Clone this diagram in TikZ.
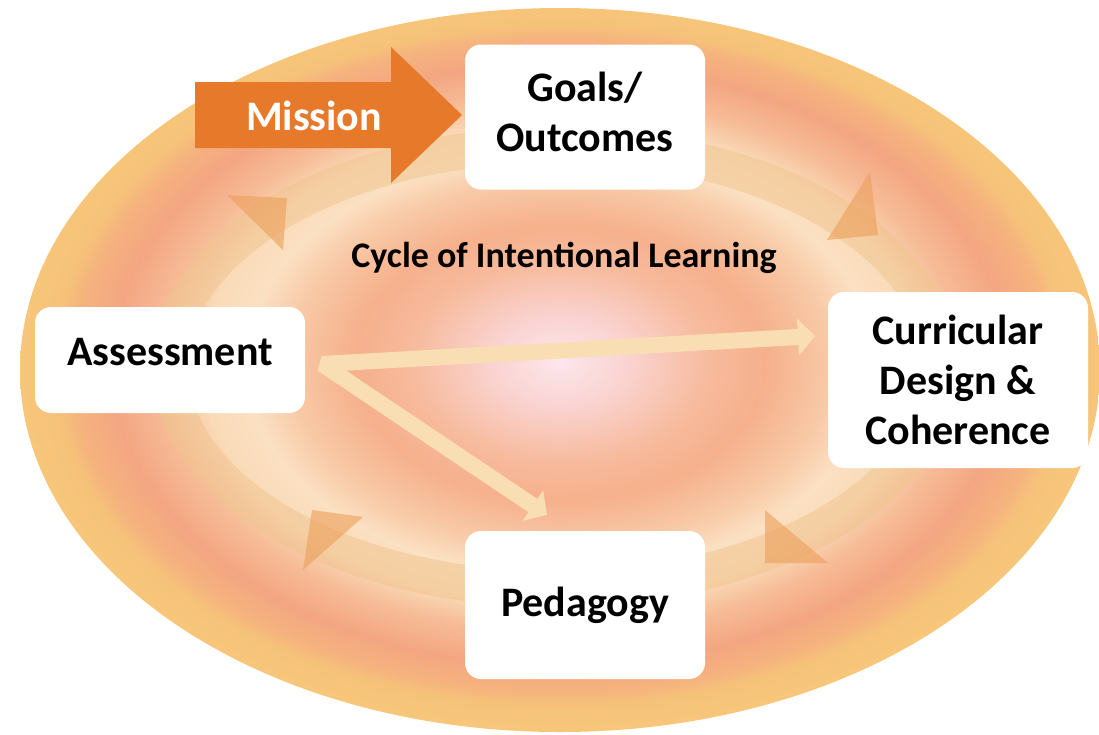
\documentclass[tikz,border=0pt]{standalone}
\usepackage{fontspec}
\setmainfont{Carlito}
\usetikzlibrary{arrows.meta}
\definecolor{g0}{HTML}{FCE6EC}
\definecolor{g1}{HTML}{FAD4D2}
\definecolor{g2}{HTML}{F7BA9C}
\definecolor{g3}{HTML}{F6B08C}
\definecolor{g4}{HTML}{F8C9A6}
\definecolor{g5}{HTML}{FBE0C2}
\definecolor{g6}{HTML}{FADBB8}
\definecolor{g7}{HTML}{F6BC97}
\definecolor{g8}{HTML}{F4A682}
\definecolor{g9}{HTML}{F5B27E}
\definecolor{g10}{HTML}{F6C27A}
\definecolor{g11}{HTML}{F7C67A}
\definecolor{ringcol}{HTML}{F0C48E}
\definecolor{headcol}{HTML}{EC9F5A}
\definecolor{missioncol}{HTML}{E7792A}
\definecolor{lightarrowcol}{HTML}{F9DDB3}
\pgfdeclareradialshading{bgshade}{\pgfpoint{0bp}{0.6bp}}{%
color(0bp)=(g0); color(3bp)=(g1); color(7bp)=(g2); color(9.5bp)=(g3);
color(12.5bp)=(g4); color(14.5bp)=(g5); color(16.5bp)=(g6); color(18.5bp)=(g7);
color(20.75bp)=(g8); color(22.5bp)=(g9); color(23.5bp)=(g10); color(25bp)=(g11);
color(50bp)=(g11)}
\begin{document}
\begin{tikzpicture}[x=1pt,y=-1pt,
  box/.style={fill=white, rounded corners=16pt, align=center, inner sep=0pt,
    font=\bfseries\fontsize{42}{50}\selectfont, text=black},
  ringhead/.style={fill=headcol, fill opacity=0.6},
  lightarrow/.style={draw=lightarrowcol, line width=16pt, line join=bevel,
    {Triangle[length=17pt,width=36pt]}-{Triangle[length=17pt,width=36pt]}}
]
\useasboundingbox (0,0) rectangle (1099,734);
% background ellipse
\shade[shading=bgshade] (560,370) ellipse [x radius=540pt, y radius=362pt];
% cycle ring
\draw[draw=ringcol, line width=36pt, draw opacity=0.5] (555,367) ellipse [x radius=385pt, y radius=222pt];
% ring arrowheads
\fill[ringhead] (227,195) -- (287,198) -- (283,250) -- cycle;
\fill[ringhead] (870,172) -- (878,235) -- (827,240) -- cycle;
\fill[ringhead] (765,510) -- (765,563) -- (828,563) -- cycle;
\fill[ringhead] (363,517) -- (312,510) -- (303,570) -- cycle;
% mission arrow
\fill[missioncol] (195,82) -- (391,82) -- (391,47) -- (462,115) -- (391,183) -- (391,148) -- (195,148) -- cycle;
\node[text=white, font=\bfseries\fontsize{42}{50}\selectfont] (mission) at (314,116) {Mission};
% light arrows from assessment
\coordinate (vstart) at (322,364);
\coordinate (tipC) at (815,336);
\coordinate (tipP) at (547,515);
\draw[lightarrow] (tipC) -- (vstart) -- (tipP);
% boxes
\node[box, minimum width=240pt, minimum height=145pt, text depth=10pt] (goals) at (585,117) {Goals/\\Outcomes};
\node[box, minimum width=270pt, minimum height=106pt, text depth=16pt] (assess) at (170,360) {Assessment};
\node[box, minimum width=260pt, minimum height=176pt] (curr) at (958,380) {Curricular\\Design \&\\Coherence};
\node[box, minimum width=240pt, minimum height=148pt] (ped) at (585,605) {Pedagogy};
% title
\node[font=\bfseries\fontsize{36}{43}\selectfont, text=black] (cycle) at (564,258) {Cycle of Intentional Learning};
\end{tikzpicture}
\end{document}
